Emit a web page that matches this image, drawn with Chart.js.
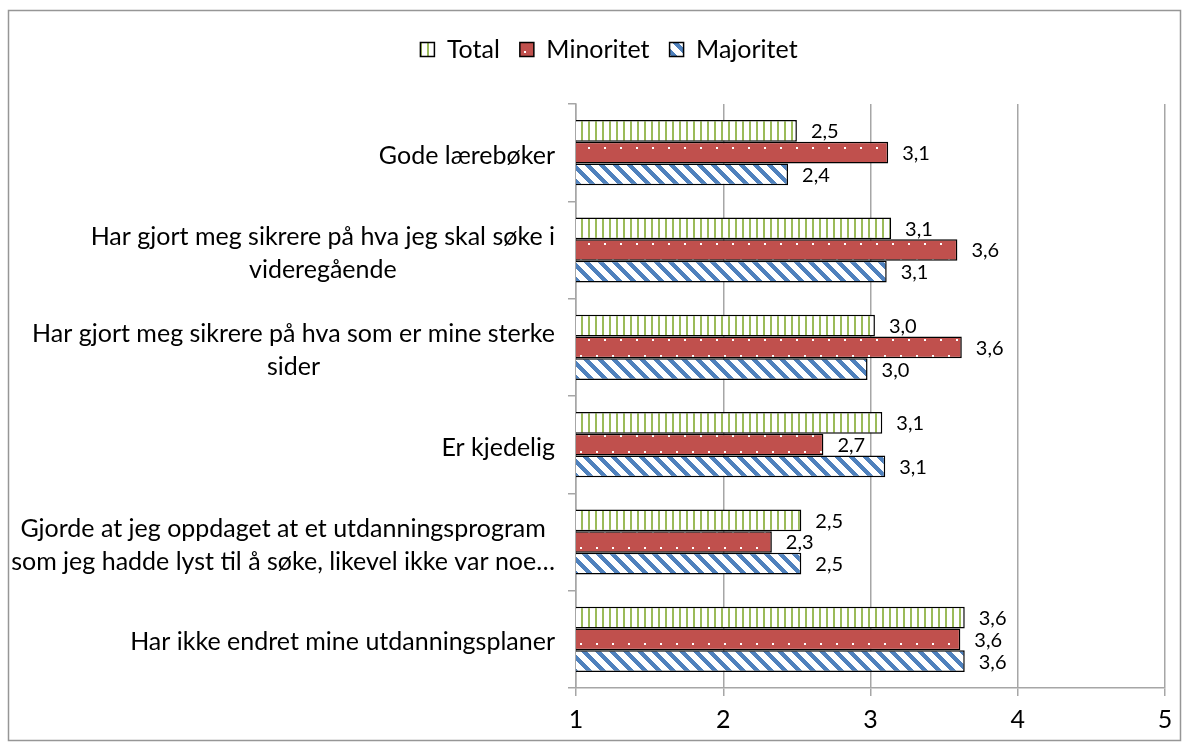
<!DOCTYPE html>
<html>
<head>
<meta charset="utf-8">
<script src="https://cdn.jsdelivr.net/npm/chart.js@4.4.1/dist/chart.umd.min.js"></script>
<style>
  html, body { margin: 0; padding: 0; background: #fff; }
</style>
</head>
<body>
<canvas id="chart" width="1189" height="747"></canvas>
<script>
let categories = [
  ['Gode lærebøker'],
  ['Har gjort meg sikrere på hva jeg skal søke i', 'videregående'],
  ['Har gjort meg sikrere på hva som er mine sterke', 'sider'],
  ['Er kjedelig'],
  ['Gjorde at jeg oppdaget at et utdanningsprogram', 'som jeg hadde lyst til å søke, likevel ikke var noe…'],
  ['Har ikke endret mine utdanningsplaner']
];
let seriesNames = ['Total', 'Minoritet', 'Majoritet'];
let totalValues = [2.50, 3.14, 3.03, 3.08, 2.53, 3.64];
let minoritetValues = [3.12, 3.59, 3.62, 2.68, 2.33, 3.61];
let majoritetValues = [2.44, 3.11, 2.98, 3.10, 2.53, 3.64];
let xTicks = [1, 2, 3, 4, 5];

const FONT = 'Lato';
const PAD_LEFT = 53;

// fill patterns like the Excel ones
function makeTile(w, h, paint) {
  let c = document.createElement('canvas');
  c.width = w; c.height = h;
  let g = c.getContext('2d');
  paint(g);
  return document.createElement('canvas').getContext('2d').createPattern(c, 'repeat');
}

let totalPattern = makeTile(7, 7, g => {
  g.fillStyle = '#fff'; g.fillRect(0, 0, 7, 7);
  g.fillStyle = '#9bbb59'; g.fillRect(0, 0, 2, 7);
});
let minoritetPattern = makeTile(16, 32, g => {
  g.fillStyle = '#c0504d'; g.fillRect(0, 0, 16, 32);
  g.fillStyle = '#fff';
  g.fillRect(4, 3, 2, 2);
  g.fillRect(12, 19, 2, 2);
});
let majoritetPattern = makeTile(14, 14, g => {
  g.fillStyle = '#fff'; g.fillRect(0, 0, 14, 14);
  g.fillStyle = '#4f81bd';
  for (let y = 0; y < 14; y++) {
    for (let x = 0; x < 14; x++) {
      if ((((x - y) % 14) + 14) % 14 < 6) g.fillRect(x, y, 1, 1);
    }
  }
});

// outer frame
const framePlugin = {
  id: 'frame',
  beforeDraw(chart) {
    let ctx = chart.ctx;
    ctx.save();
    ctx.fillStyle = '#fff';
    ctx.fillRect(0, 0, chart.width, chart.height);
    ctx.strokeStyle = '#969696';
    ctx.lineWidth = 1.5;
    ctx.strokeRect(8.5, 10.5, 1172, 730);
    ctx.restore();
  }
};

// leave a gap between legend and plot
const legendGapPlugin = {
  id: 'legendGap',
  beforeInit(chart) {
    let lg = chart.legend;
    if (!lg) return;
    let fit = lg.fit;
    lg.fit = function() {
      fit.call(this);
      this.height += 32;
    };
  }
};

// category labels: block right aligned, lines centred
const catLabelPlugin = {
  id: 'catLabels',
  afterDraw(chart) {
    let ctx = chart.ctx;
    let y = chart.scales.y;
    ctx.save();
    ctx.font = '25px ' + FONT;
    ctx.fillStyle = '#000';
    ctx.textAlign = 'center';
    ctx.textBaseline = 'middle';
    let lineH = 33;
    categories.forEach((lines, i) => {
      let py = y.getPixelForTick(i) + 3;
      let maxW = Math.max(...lines.map(l => ctx.measureText(l).width));
      let cx = 555 - maxW / 2;
      let top = py - (lines.length - 1) * lineH / 2;
      lines.forEach((l, k) => ctx.fillText(l, cx, top + k * lineH));
    });
    ctx.restore();
  }
};

// value labels right of each bar
const valueLabelPlugin = {
  id: 'valueLabels',
  afterDatasetsDraw(chart) {
    let ctx = chart.ctx;
    ctx.save();
    ctx.font = '20px ' + FONT;
    ctx.fillStyle = '#000';
    ctx.textAlign = 'left';
    ctx.textBaseline = 'middle';
    chart.data.datasets.forEach((ds, i) => {
      chart.getDatasetMeta(i).data.forEach((bar, j) => {
        let txt = ds.data[j].toFixed(1).replace('.', ',');
        ctx.fillText(txt, bar.x + 14, bar.y + 1);
      });
    });
    ctx.restore();
  }
};

let ctx = document.getElementById('chart').getContext('2d');
let chart = new Chart(ctx, {
  type: 'bar',
  data: {
    labels: categories.map(c => c.join(' ')),
    datasets: [
      { label: seriesNames[0], data: totalValues, backgroundColor: totalPattern },
      { label: seriesNames[1], data: minoritetValues, backgroundColor: minoritetPattern },
      { label: seriesNames[2], data: majoritetValues, backgroundColor: majoritetPattern }
    ].map(d => Object.assign(d, {
      borderColor: '#000',
      borderWidth: 1.5,
      borderSkipped: false,
      categoryPercentage: 0.67,
      barPercentage: 1
    }))
  },
  options: {
    indexAxis: 'y',
    responsive: false,
    animation: false,
    devicePixelRatio: 1,
    layout: { padding: { left: PAD_LEFT, right: 24, top: 17, bottom: 0 } },
    plugins: {
      tooltip: { enabled: false },
      legend: {
        position: 'top',
        labels: {
          font: { family: FONT, size: 25 },
          color: '#000',
          boxWidth: 14,
          boxHeight: 14,
          padding: 20
        }
      }
    },
    scales: {
      x: {
        min: xTicks[0],
        max: xTicks[xTicks.length - 1],
        afterBuildTicks: s => { s.ticks = xTicks.map(v => ({ value: v })); },
        ticks: { font: { family: FONT, size: 25 }, color: '#000', padding: 9 },
        grid: { color: '#a6a6a6', lineWidth: 1.5, tickLength: 8 },
        border: { color: '#a6a6a6', width: 1.5 },
        afterFit: s => { s.height = 59; }
      },
      y: {
        ticks: { display: false },
        grid: { drawOnChartArea: false, color: '#a6a6a6', lineWidth: 1.5, tickLength: 8 },
        border: { color: '#a6a6a6', width: 1.5 },
        afterFit: s => { s.width = 576 - PAD_LEFT; }
      }
    }
  },
  plugins: [framePlugin, legendGapPlugin, catLabelPlugin, valueLabelPlugin]
});
</script>
</body>
</html>
